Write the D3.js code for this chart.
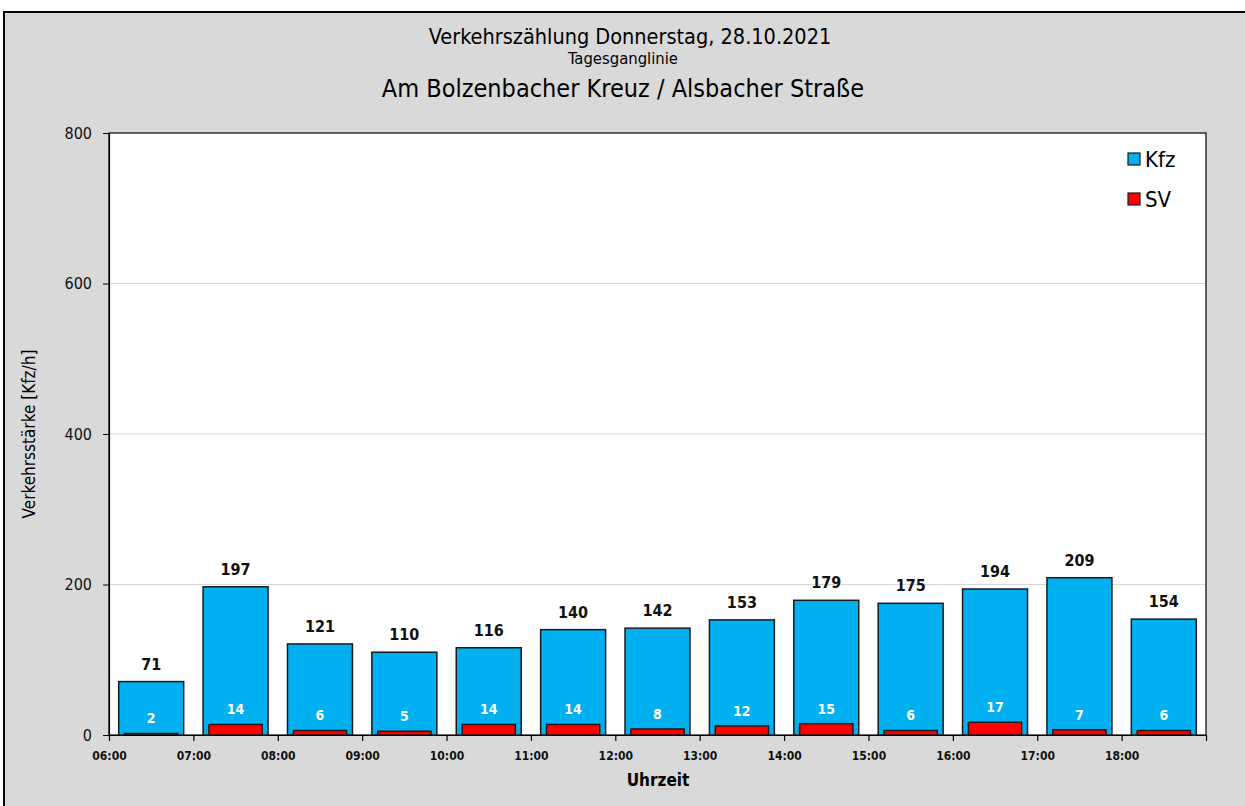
<!DOCTYPE html>
<html>
<head>
<meta charset="utf-8">
<script src="https://cdn.jsdelivr.net/npm/d3@7"></script>
<style>
  body { margin: 0; background: #fff; }
  svg { display: block; font-family: "DejaVu Sans Condensed", "Liberation Sans Narrow", sans-serif; }
</style>
</head>
<body>
<script>
// values
var hours = ["06:00", "07:00", "08:00", "09:00", "10:00", "11:00", "12:00", "13:00", "14:00", "15:00", "16:00", "17:00", "18:00"];
var kfz = [71, 197, 121, 110, 116, 140, 142, 153, 179, 175, 194, 209, 154];
var sv = [2, 14, 6, 5, 14, 14, 8, 12, 15, 6, 17, 7, 6];
var yTicks = [0, 200, 400, 600, 800];

var W = 1245, H = 806;
var plot = {left: 109, right: 1206, top: 133, bottom: 735};

const svg = d3.select("body").append("svg")
    .attr("width", W)
    .attr("height", H);

// background panel
svg.append("rect")
    .attr("x", 4).attr("y", 12)
    .attr("width", W + 10).attr("height", H + 10)
    .attr("fill", "#d9d9d9")
    .attr("stroke", "#000")
    .attr("stroke-width", 2);

// titles
svg.append("text").attr("x", 630).attr("y", 44).attr("text-anchor", "middle")
    .attr("font-size", 21.5).text("Verkehrszählung Donnerstag, 28.10.2021");
svg.append("text").attr("x", 623).attr("y", 64).attr("text-anchor", "middle")
    .attr("font-size", 16.5).text("Tagesganglinie");
svg.append("text").attr("x", 623).attr("y", 97).attr("text-anchor", "middle")
    .attr("font-size", 25).text("Am Bolzenbacher Kreuz / Alsbacher Straße");

var xscale = d3.scaleBand()
    .domain(hours)
    .range([plot.left, plot.right])
    .paddingInner(0.23)
    .paddingOuter(0.115);

var hourScale = d3.scaleLinear()
    .domain([6, 6 + hours.length])
    .range([plot.left, plot.right]);

var yscale = d3.scaleLinear()
    .domain([0, 800])
    .range([plot.bottom, plot.top]);

// plot area
svg.append("rect")
    .attr("x", plot.left).attr("y", plot.top)
    .attr("width", plot.right - plot.left).attr("height", plot.bottom - plot.top)
    .attr("fill", "#fff");

// gridlines
svg.append("g")
    .selectAll("line")
    .data(yTicks.slice(1, -1))
    .join("line")
    .attr("x1", plot.left).attr("x2", plot.right)
    .attr("y1", d => yscale(d)).attr("y2", d => yscale(d))
    .attr("stroke", "#d6d6d6")
    .attr("stroke-width", 1);

// frame
svg.append("rect")
    .attr("x", plot.left).attr("y", plot.top)
    .attr("width", plot.right - plot.left).attr("height", plot.bottom - plot.top)
    .attr("fill", "none")
    .attr("stroke", "#000")
    .attr("stroke-width", 1.2);

// Kfz bars
svg.append("g")
    .selectAll("rect")
    .data(kfz)
    .join("rect")
    .attr("x", (d, i) => xscale(hours[i]))
    .attr("y", d => yscale(d))
    .attr("width", xscale.bandwidth())
    .attr("height", d => yscale(0) - yscale(d))
    .attr("fill", "#00b0f0")
    .attr("stroke", "#1a1a1a")
    .attr("stroke-width", 1.5);

// SV bars (narrower, centred)
var svInset = xscale.bandwidth() * 0.09;
svg.append("g")
    .selectAll("rect")
    .data(sv)
    .join("rect")
    .attr("x", (d, i) => xscale(hours[i]) + svInset)
    .attr("y", d => yscale(d))
    .attr("width", xscale.bandwidth() - 2 * svInset)
    .attr("height", d => yscale(0) - yscale(d))
    .attr("fill", "#ff0000")
    .attr("stroke", "#1a1a1a")
    .attr("stroke-width", 1.5);

// labels
svg.append("g")
    .selectAll("text")
    .data(kfz)
    .join("text")
    .attr("x", (d, i) => xscale(hours[i]) + xscale.bandwidth() / 2)
    .attr("y", d => yscale(d) - 12)
    .attr("text-anchor", "middle")
    .attr("font-size", 16)
    .attr("font-weight", "bold")
    .attr("fill", "#111")
    .text(d => d);

svg.append("g")
    .selectAll("text")
    .data(sv)
    .join("text")
    .attr("x", (d, i) => xscale(hours[i]) + xscale.bandwidth() / 2)
    .attr("y", d => yscale(d) - 10)
    .attr("text-anchor", "middle")
    .attr("font-size", 14)
    .attr("font-weight", "bold")
    .attr("fill", "#fff")
    .text(d => d);

// x-axis
var xAxis = svg.append("g")
    .attr("transform", `translate(0,${plot.bottom})`)
    .call(d3.axisBottom(hourScale)
        .tickValues(d3.range(6, 7 + hours.length))
        .tickFormat(h => h < 6 + hours.length ? hours[h - 6] : "")
        .tickSize(6)
        .tickSizeOuter(0));
xAxis.select(".domain").attr("stroke", "#000").attr("stroke-width", 1.2);
xAxis.selectAll(".tick line").attr("stroke", "#000").attr("stroke-width", 1.2);
xAxis.selectAll(".tick text")
    .attr("font-family", "DejaVu Sans Condensed, sans-serif")
    .attr("font-size", 12).attr("font-weight", "bold").attr("fill", "#111")
    .attr("dy", "1.35em");

// y-axis
var yAxis = svg.append("g")
    .attr("transform", `translate(${plot.left},0)`)
    .call(d3.axisLeft(yscale).tickValues(yTicks).tickSize(6).tickPadding(11).tickSizeOuter(0));
yAxis.select(".domain").attr("stroke", "#000").attr("stroke-width", 1.2);
yAxis.selectAll(".tick line").attr("stroke", "#000").attr("stroke-width", 1);
yAxis.selectAll(".tick text")
    .attr("font-family", "DejaVu Sans Condensed, sans-serif")
    .attr("font-size", 16).attr("fill", "#111");

// axis titles
svg.append("text")
    .attr("transform", "translate(35,434) rotate(-90)")
    .attr("text-anchor", "middle")
    .attr("font-size", 17)
    .text("Verkehrsstärke [Kfz/h]");
svg.append("text")
    .attr("x", 658).attr("y", 786)
    .attr("text-anchor", "middle")
    .attr("font-size", 17)
    .attr("font-weight", "bold")
    .text("Uhrzeit");

// legend
var legend = [["Kfz", "#00b0f0"], ["SV", "#ff0000"]];
legend.forEach((d, i) => {
    svg.append("rect")
        .attr("x", 1128).attr("y", 153 + 40 * i)
        .attr("width", 12).attr("height", 12)
        .attr("fill", d[1])
        .attr("stroke", "#1a1a1a")
        .attr("stroke-width", 1.2);
    svg.append("text")
        .attr("x", 1145).attr("y", 167 + 40 * i)
        .attr("font-size", 22)
        .text(d[0]);
});
</script>
</body>
</html>
